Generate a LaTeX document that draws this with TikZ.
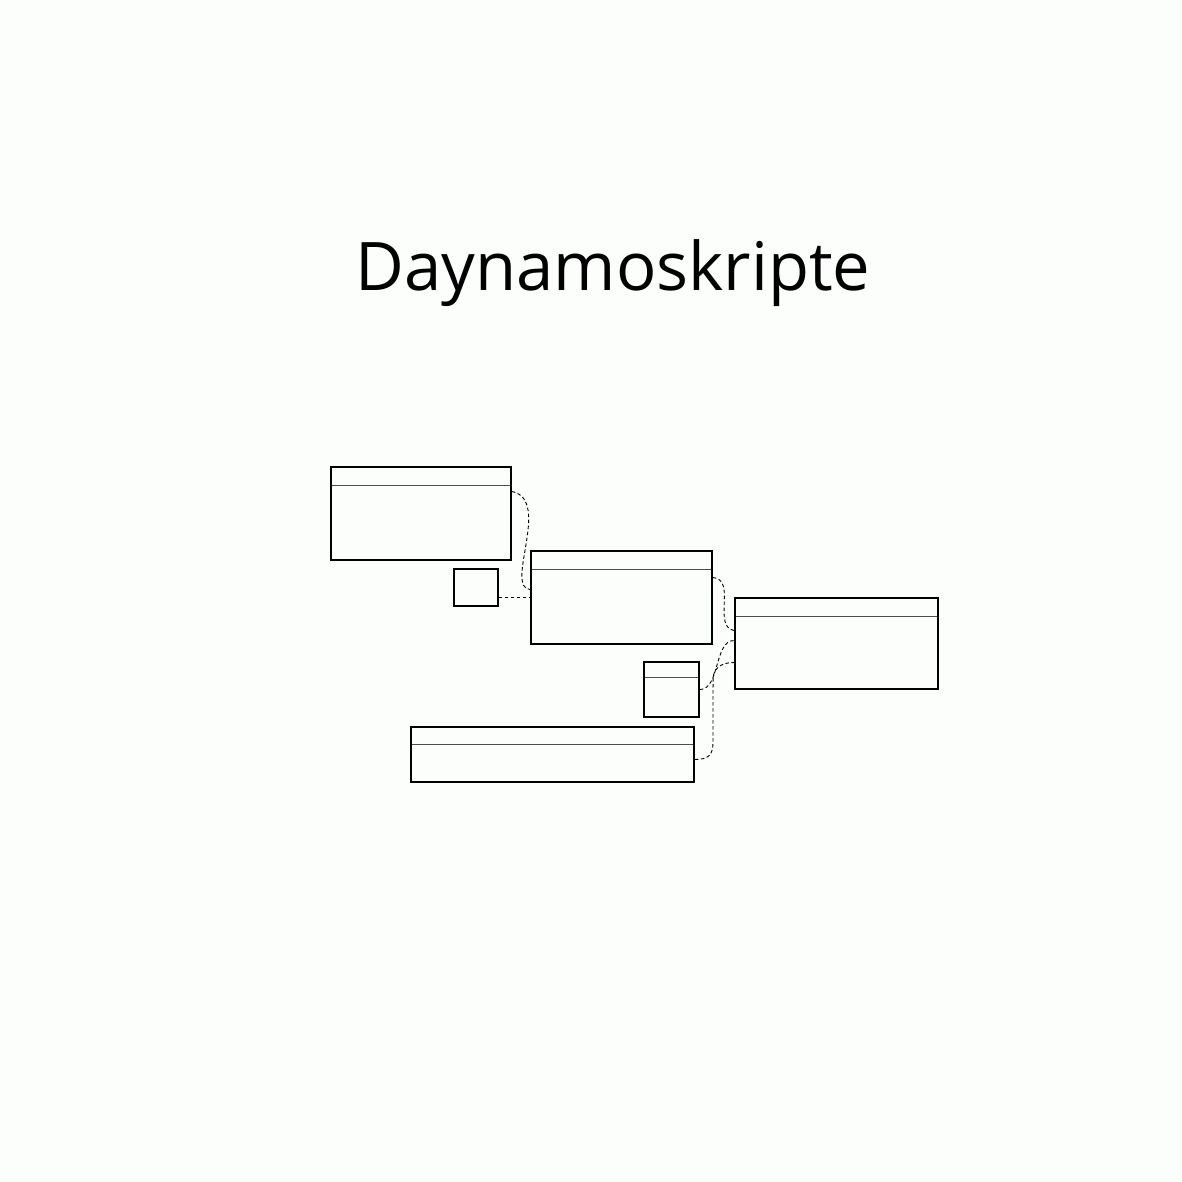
\documentclass[tikz,border=0pt]{standalone}
\usepackage{fontspec}
\setmainfont{Open Sans}
\usetikzlibrary{calc}
\definecolor{paper}{RGB}{252,254,252}
\tikzstyle{entity} = [rectangle, draw=black, line width=1.9pt, inner sep=0pt]
\tikzstyle{link} = [line width=0.9pt, dash pattern=on 3.5pt off 2.5pt]
\tikzset{table/.style={entity, path picture={\draw[black!70, line width=1pt] ([yshift=-#1pt]path picture bounding box.north west) -- ([yshift=-#1pt]path picture bounding box.north east);}}}

\begin{document}
\begin{tikzpicture}[x=1pt, y=-1pt]

\useasboundingbox[fill=paper] (0,0) rectangle (1182,1182);

\node (title) [anchor=base, font=\fontsize{67}{80}\selectfont] at (613,290) {Daynamoskripte};

\node (tabA) [table=18, minimum width=180pt, minimum height=93pt] at (421,513.5) {};
\node (tabB) [table=18, minimum width=181pt, minimum height=93pt] at (621.5,597.5) {};
\node (tabC) [table=18, minimum width=203pt, minimum height=91pt] at (836.5,643.5) {};
\node (keyD) [entity, minimum width=44pt, minimum height=37pt] at (476,587.5) {};
\node (tabE) [table=15, minimum width=55pt, minimum height=55pt] at (671.5,689.5) {};
\node (tabF) [table=17, minimum width=283pt, minimum height=55pt] at (552.5,754.5) {};

% relations
\draw [link] ($(tabA.east)+(0,-22)$) .. controls +(40,8) and +(-26,-2) .. ($(tabB.west)+(0,-8)$);
\draw [link] ($(keyD.east)+(0,10)$) -- (tabB.west);
\draw [link] ($(tabB.east)+(0,-20)$) .. controls +(24,2) and +(-22,-4) .. ($(tabC.west)+(0,-13)$);
\draw [link] (tabE.east) .. controls +(20,0) and +(-20,0) .. ($(tabC.west)+(0,-3)$);
\draw [link] ($(tabF.east)+(0,5)$) .. controls +(14,0) and +(0,12) .. ($(tabF.east)+(18,-12)$)
  -- ($(tabC.west)+(-21,36)$) .. controls +(0,-12) and +(-12,0) .. ($(tabC.west)+(0,19)$);

\end{tikzpicture}
\end{document}
